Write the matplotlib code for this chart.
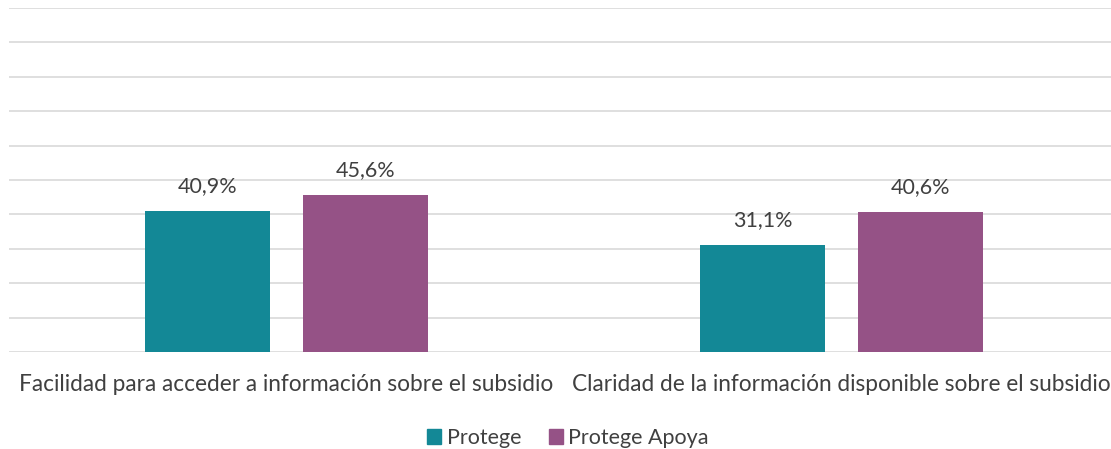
import numpy as np
import matplotlib
matplotlib.use('Agg')
import matplotlib.pyplot as plt

plt.rcParams['font.family'] = ['Lato', 'DejaVu Sans']

categories = ['Facilidad para acceder a información sobre el subsidio',
              'Claridad de la información disponible sobre el subsidio']
series_names = ['Protege', 'Protege Apoya']
protege = [40.9, 31.1]
protege_apoya = [45.6, 40.6]
colors = ['#138896', '#955286']

W, H = 1111, 449
fig = plt.figure(figsize=(W / 100, H / 100), dpi=100)
# plot area in pixels: left 9, right 1119 (gridlines run off the right edge), top 8, bottom 352
ax = fig.add_axes([9 / W, 1 - 352 / H, 1110 / W, 344 / H])

x = np.arange(len(categories))
bw = 0.225
off = 0.1423
text_color = '#404040'
fs = 15.5

for vals, dx, col in [(protege, -off, colors[0]), (protege_apoya, off, colors[1])]:
    bars = ax.bar(x + dx, vals, width=bw, color=col, zorder=3)
    for b, v in zip(bars, vals):
        ax.text(b.get_x() + b.get_width() / 2, v + 4.3, f'{v:.1f}%'.replace('.', ','),
                ha='center', va='bottom', fontsize=fs, color=text_color)

ax.set_xlim(-0.5, 1.5)
ax.set_ylim(0, 100)
ax.set_yticks(np.arange(0, 101, 10))
ax.yaxis.grid(True, color='#d9d9d9', linewidth=1.2, zorder=0)
ax.tick_params(axis='y', left=False, labelleft=False)
ax.tick_params(axis='x', bottom=False, labelsize=16.3, labelcolor=text_color, pad=12)
ax.set_xticks(x)
ax.set_xticklabels(categories)
for s in ax.spines.values():
    s.set_visible(False)

handles = [plt.Rectangle((0, 0), 1, 1, color=c) for c in colors]
fig.legend(handles, series_names, loc='center', bbox_to_anchor=(568 / W, 1 - 438 / H),
           ncol=2, frameon=False, fontsize=fs, handlelength=0.65, handleheight=0.65,
           handletextpad=0.25, columnspacing=1.3, labelcolor=text_color)

fig.savefig('out.png', dpi=100)
